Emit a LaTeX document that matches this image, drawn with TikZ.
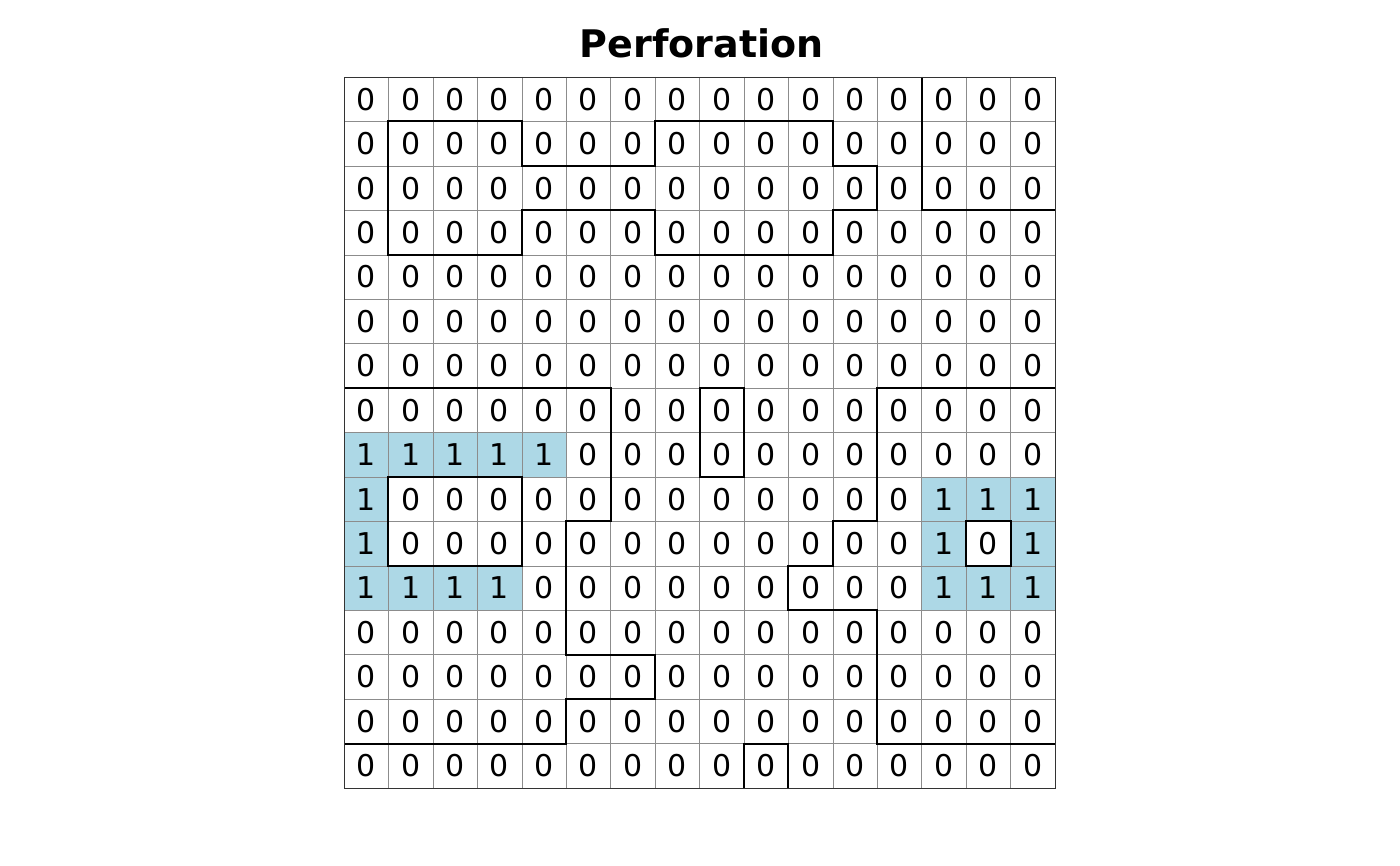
\documentclass[tikz,border=0pt]{standalone}
\usepackage{fontspec}
\setmainfont{DejaVu Sans}
\usetikzlibrary{calc}

\definecolor{val0}{HTML}{FFFFFF}
\definecolor{val1}{HTML}{ADD8E6}

\begin{document}
\begin{tikzpicture}[
    x = 44.44pt, y = -44.44pt,
    cell/.style  = {minimum width = 44.44pt, minimum height = 44.44pt,
                    inner sep = 0pt, outer sep = 0pt,
                    font = \fontsize{30}{30}\selectfont},
    thin/.style  = {draw = black!45, line width = 0.5pt},
    frame/.style = {draw = black!80, line width = 0.9pt},
    bound/.style = {draw = black, line width = 2pt, line join = miter},
    ttl/.style   = {font = \fontsize{38}{38}\selectfont\bfseries,
                    anchor = base},
  ]
    \useasboundingbox (-344pt, 77pt) rectangle (1056pt, -789pt);

    %% ── Title ────────────────────────────────────────────────────
    \node[ttl] (title) at (8.05, -0.43) {Perforation};

    %% ── Cells (row by row) ───────────────────────────────────────
    \foreach \vals [count=\r from 0] in {
        {0,0,0,0,0,0,0,0,0,0,0,0,0,0,0,0},
        {0,0,0,0,0,0,0,0,0,0,0,0,0,0,0,0},
        {0,0,0,0,0,0,0,0,0,0,0,0,0,0,0,0},
        {0,0,0,0,0,0,0,0,0,0,0,0,0,0,0,0},
        {0,0,0,0,0,0,0,0,0,0,0,0,0,0,0,0},
        {0,0,0,0,0,0,0,0,0,0,0,0,0,0,0,0},
        {0,0,0,0,0,0,0,0,0,0,0,0,0,0,0,0},
        {0,0,0,0,0,0,0,0,0,0,0,0,0,0,0,0},
        {1,1,1,1,1,0,0,0,0,0,0,0,0,0,0,0},
        {1,0,0,0,0,0,0,0,0,0,0,0,0,1,1,1},
        {1,0,0,0,0,0,0,0,0,0,0,0,0,1,0,1},
        {1,1,1,1,0,0,0,0,0,0,0,0,0,1,1,1},
        {0,0,0,0,0,0,0,0,0,0,0,0,0,0,0,0},
        {0,0,0,0,0,0,0,0,0,0,0,0,0,0,0,0},
        {0,0,0,0,0,0,0,0,0,0,0,0,0,0,0,0},
        {0,0,0,0,0,0,0,0,0,0,0,0,0,0,0,0}}
      \foreach \v [count=\c from 0] in \vals
        \node[cell, fill=val\v] (n-\r-\c) at (\c+0.5, \r+0.5) {\v};

    %% ── Thin grid ────────────────────────────────────────────────
    \foreach \k in {1,...,15} {
      \draw[thin] (\k, 0) -- (\k, 16);
      \draw[thin] (0, \k) -- (16, \k);
    }

    %% ── Region boundaries ────────────────────────────────────────
    \draw[bound] (1,1) -- (4,1) -- (4,2) -- (7,2) -- (7,1) -- (11,1)
      -- (11,2) -- (12,2) -- (12,3) -- (11,3) -- (11,4) -- (7,4)
      -- (7,3) -- (4,3) -- (4,4) -- (1,4) -- cycle;
    \draw[bound] (13,0) -- (13,3) -- (16,3);
    \draw[bound] (0,7) -- (6,7) -- (6,10) -- (5,10) -- (5,13) -- (7,13)
      -- (7,14) -- (5,14) -- (5,15) -- (0,15);
    \draw[bound] (8,7) rectangle (9,9);
    \draw[bound] (16,7) -- (12,7) -- (12,10) -- (11,10) -- (11,11)
      -- (10,11) -- (10,12) -- (12,12) -- (12,15) -- (16,15);
    \draw[bound] (1,9) rectangle (4,11);
    \draw[bound] (14,10) rectangle (15,11);
    \draw[bound] (9,16) -- (9,15) -- (10,15) -- (10,16);

    %% ── Outer frame ──────────────────────────────────────────────
    \draw[frame] (0,0) rectangle (16,16);
  \end{tikzpicture}
\end{document}
